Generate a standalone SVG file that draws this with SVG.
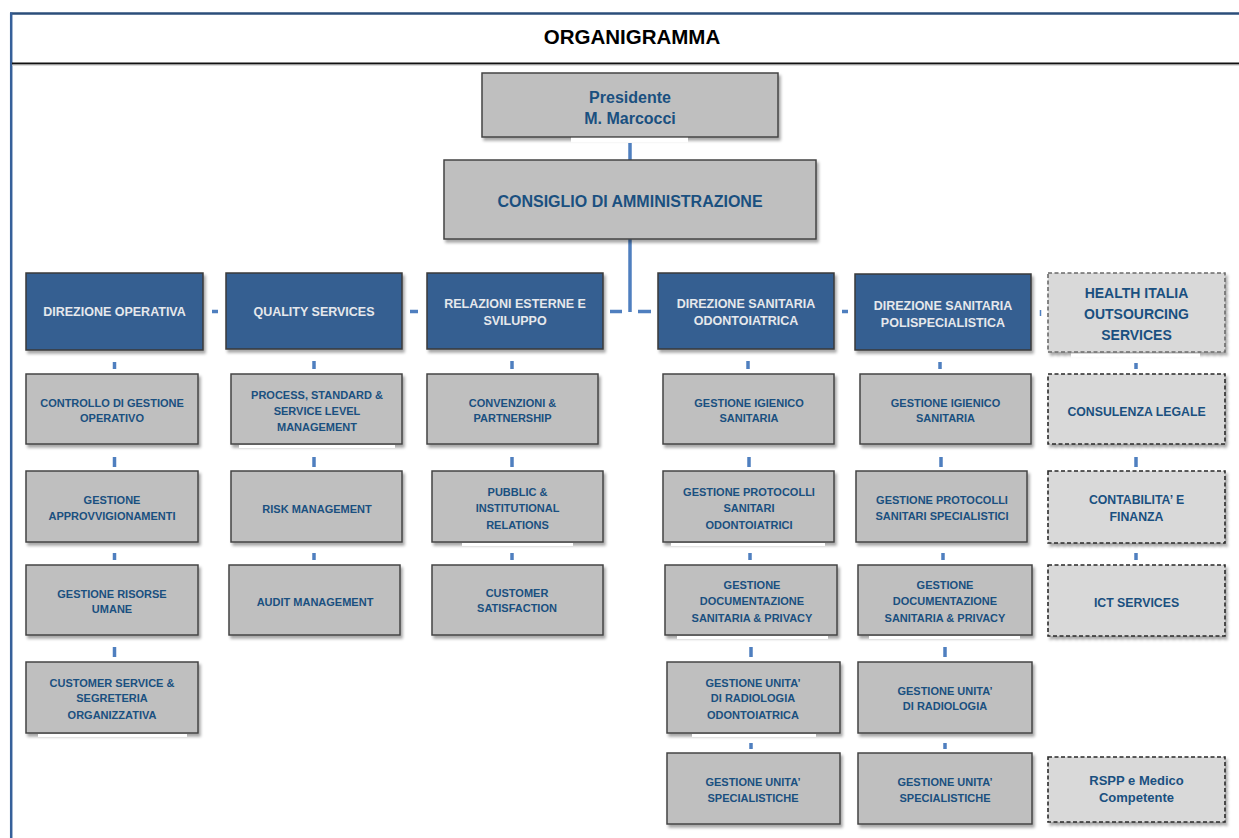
<svg xmlns="http://www.w3.org/2000/svg" width="1239" height="838" viewBox="0 0 1239 838">
<defs>
<filter id="sh" x="-10%" y="-10%" width="125%" height="135%">
<feDropShadow dx="2" dy="3" stdDeviation="1.8" flood-color="#000" flood-opacity="0.35"/>
</filter>
<style>
.g{fill:#BFBFBF;stroke:#454545;stroke-width:1.5;filter:url(#sh)}
.b{fill:#365F91;stroke:#3a3a3a;stroke-width:1.5;filter:url(#sh)}
.d{fill:#D9D9D9;stroke:#2A2A2A;stroke-width:1.6;stroke-dasharray:4 2.5;filter:url(#sh)}
.dl{stroke:#6A6A6A}
.wt{fill:#FFFFFF}
text{font-family:"Liberation Sans",Arial,sans-serif;font-weight:bold;text-anchor:middle}
.t{fill:#1A5080;font-size:11px}
.tb{fill:#E6E8EC;font-size:12.5px}
.td{fill:#1A5080;font-size:12.3px}
.th{fill:#1A5080;font-size:14px}
.tp{fill:#1A5080;font-size:16px}
.c{stroke:#4F7FBF;stroke-width:3.5;fill:none}
</style>
</defs>
<rect width="1239" height="838" fill="#FFFFFF"/>
<g id="frame">
<line x1="10" y1="13.5" x2="1239" y2="13.5" stroke="#2B4E7A" stroke-width="2.5"/>
<line x1="11.2" y1="12.5" x2="11.2" y2="838" stroke="#36609A" stroke-width="2.5"/>
<line x1="12" y1="63.5" x2="1239" y2="63.5" stroke="#111" stroke-width="2"/>
<line x1="12" y1="65.2" x2="1239" y2="65.2" stroke="#CCC" stroke-width="1"/>
<text x="632" y="44" style="font-size:20.5px;fill:#000">ORGANIGRAMMA</text>
</g>
<g id="connectors">
<rect class="wt" x="571" y="137.5" width="117" height="5"/>
<rect class="wt" x="622" y="133" width="18" height="37"/>
<line class="c" x1="630" y1="143" x2="630" y2="160"/>
<rect class="wt" x="622" y="236" width="18" height="10"/>
<line class="c" x1="630" y1="237" x2="630" y2="312"/>
<line class="c" x1="212" y1="311.5" x2="218" y2="311.5"/>
<line class="c" x1="410" y1="311.5" x2="418" y2="311.5"/>
<line class="c" x1="610" y1="311.5" x2="622" y2="311.5"/>
<line class="c" x1="638" y1="311.5" x2="651" y2="311.5"/>
<line class="c" x1="842" y1="311.5" x2="848" y2="311.5"/>
<line x1="1040.5" y1="310" x2="1040.5" y2="316" stroke="#4F7FBF" stroke-width="1.5"/>
<g class="c">
<line x1="114.5" y1="362" x2="114.5" y2="369"/><line x1="114.5" y1="457" x2="114.5" y2="467"/><line x1="114.5" y1="553" x2="114.5" y2="560"/><line x1="114.5" y1="647" x2="114.5" y2="657"/>
<line x1="314" y1="361" x2="314" y2="369"/><line x1="314" y1="457" x2="314" y2="467"/><line x1="314" y1="553" x2="314" y2="560"/>
<line x1="512" y1="361" x2="512" y2="369"/><line x1="512" y1="457" x2="512" y2="467"/><line x1="512" y1="553" x2="512" y2="560"/>
<line x1="748" y1="361" x2="748" y2="369"/><line x1="749" y1="457" x2="749" y2="467"/><line x1="750" y1="553" x2="750" y2="560"/><line x1="751" y1="647" x2="751" y2="657"/><line x1="751" y1="743" x2="751" y2="749"/>
<line x1="940" y1="362" x2="940" y2="369"/><line x1="941" y1="457" x2="941" y2="467"/><line x1="943" y1="553" x2="943" y2="560"/><line x1="945" y1="647" x2="945" y2="657"/><line x1="945" y1="743" x2="945" y2="749"/>
<line x1="1136" y1="363" x2="1136" y2="369"/><line x1="1136" y1="457" x2="1136" y2="467"/><line x1="1136" y1="553" x2="1136" y2="560"/>
</g>
</g>
<g id="presidente"><rect class="g" x="482" y="73" width="296" height="64"/><text class="tp" x="630" y="103">Presidente</text><text class="tp" x="630" y="124">M. Marcocci</text></g>
<rect class="wt" x="571" y="137.8" width="117" height="4.5"/>
<g id="cda"><rect class="g" x="444" y="160" width="372" height="79"/><text class="tp" x="630" y="207">CONSIGLIO DI AMMINISTRAZIONE</text></g>

<g id="dir-operativa"><rect class="b" x="26" y="273" width="177" height="77"/><text class="tb" x="114.5" y="316">DIREZIONE OPERATIVA</text></g>
<g id="quality-services"><rect class="b" x="226" y="273" width="176" height="76"/><text class="tb" x="314" y="315.5">QUALITY SERVICES</text></g>
<g id="relazioni-esterne"><rect class="b" x="427" y="273" width="176" height="76"/><text class="tb" x="515" y="307.5">RELAZIONI ESTERNE E</text><text class="tb" x="515" y="324.5">SVILUPPO</text></g>
<g id="dir-sanitaria-odonto"><rect class="b" x="658" y="273" width="176" height="76"/><text class="tb" x="746" y="307.5">DIREZIONE SANITARIA</text><text class="tb" x="746" y="324.5">ODONTOIATRICA</text></g>
<g id="dir-sanitaria-poli"><rect class="b" x="855" y="274" width="176" height="76"/><text class="tb" x="943" y="309.5">DIREZIONE SANITARIA</text><text class="tb" x="943" y="326.5">POLISPECIALISTICA</text></g>
<g id="health-italia"><rect class="d dl" x="1048" y="273" width="177" height="79"/><text class="th" x="1136.5" y="298">HEALTH ITALIA</text><text class="th" x="1136.5" y="319">OUTSOURCING</text><text class="th" x="1136.5" y="340">SERVICES</text></g>
<rect class="wt" x="1071" y="353.5" width="129" height="4"/>

<g id="controllo-gestione"><rect class="g" x="26" y="374" width="172" height="70"/><text class="t" x="112" y="407">CONTROLLO DI GESTIONE</text><text class="t" x="112" y="422">OPERATIVO</text></g>
<g id="approvvigionamenti"><rect class="g" x="26" y="471" width="172" height="71"/><text class="t" x="112" y="503.5">GESTIONE</text><text class="t" x="112" y="519.5">APPROVVIGIONAMENTI</text></g>
<g id="risorse-umane"><rect class="g" x="26" y="565" width="172" height="70"/><text class="t" x="112" y="598">GESTIONE RISORSE</text><text class="t" x="112" y="613">UMANE</text></g>
<g id="customer-service"><rect class="g" x="26" y="662" width="172" height="71"/><text class="t" x="112" y="687">CUSTOMER SERVICE &amp;</text><text class="t" x="112" y="702">SEGRETERIA</text><text class="t" x="112" y="719">ORGANIZZATIVA</text></g>
<rect class="wt" x="38" y="734" width="149" height="3"/>

<g id="process-standard"><rect class="g" x="231" y="374" width="171" height="70"/><text class="t" x="317" y="399">PROCESS, STANDARD &amp;</text><text class="t" x="317" y="414.5">SERVICE LEVEL</text><text class="t" x="317" y="431">MANAGEMENT</text></g>
<rect class="wt" x="239" y="445" width="156" height="3"/>
<g id="risk-management"><rect class="g" x="231" y="471" width="171" height="71"/><text class="t" x="317" y="512.5">RISK MANAGEMENT</text></g>
<g id="audit-management"><rect class="g" x="229" y="565" width="171" height="70"/><text class="t" x="315" y="606">AUDIT MANAGEMENT</text></g>

<g id="convenzioni"><rect class="g" x="427" y="374" width="171" height="70"/><text class="t" x="512.5" y="407">CONVENZIONI &amp;</text><text class="t" x="512.5" y="422">PARTNERSHIP</text></g>
<g id="pubblic-relations"><rect class="g" x="432" y="471" width="171" height="71"/><text class="t" x="517.5" y="496">PUBBLIC &amp;</text><text class="t" x="517.5" y="511.5">INSTITUTIONAL</text><text class="t" x="517.5" y="529">RELATIONS</text></g>
<rect class="wt" x="462" y="543" width="111" height="3"/>
<g id="customer-satisfaction"><rect class="g" x="432" y="565" width="171" height="70"/><text class="t" x="517" y="597">CUSTOMER</text><text class="t" x="517" y="612">SATISFACTION</text></g>

<g id="igienico-odonto"><rect class="g" x="663" y="374" width="171" height="70"/><text class="t" x="749" y="407">GESTIONE IGIENICO</text><text class="t" x="749" y="422">SANITARIA</text></g>
<g id="protocolli-odonto"><rect class="g" x="663" y="471" width="171" height="71"/><text class="t" x="749" y="496">GESTIONE PROTOCOLLI</text><text class="t" x="749" y="512">SANITARI</text><text class="t" x="749" y="529">ODONTOIATRICI</text></g>
<rect class="wt" x="671" y="543" width="154" height="3"/>
<g id="documentazione-odonto"><rect class="g" x="665" y="565" width="172" height="70"/><text class="t" x="752" y="589">GESTIONE</text><text class="t" x="752" y="605">DOCUMENTAZIONE</text><text class="t" x="752" y="622">SANITARIA &amp; PRIVACY</text></g>
<rect class="wt" x="677" y="636" width="151" height="3"/>
<g id="radiologia-odonto"><rect class="g" x="667" y="662" width="173" height="71"/><text class="t" x="753" y="687">GESTIONE UNITA’</text><text class="t" x="753" y="702">DI RADIOLOGIA</text><text class="t" x="753" y="719">ODONTOIATRICA</text></g>
<rect class="wt" x="692" y="734" width="124" height="3"/>
<g id="specialistiche-odonto"><rect class="g" x="667" y="753" width="173" height="71"/><text class="t" x="753" y="786">GESTIONE UNITA’</text><text class="t" x="753" y="802">SPECIALISTICHE</text></g>

<g id="igienico-poli"><rect class="g" x="860" y="374" width="171" height="70"/><text class="t" x="945.5" y="407">GESTIONE IGIENICO</text><text class="t" x="945.5" y="422">SANITARIA</text></g>
<g id="protocolli-poli"><rect class="g" x="856" y="471" width="171" height="71"/><text class="t" x="942" y="503.5">GESTIONE PROTOCOLLI</text><text class="t" x="942" y="519.5">SANITARI SPECIALISTICI</text></g>
<g id="documentazione-poli"><rect class="g" x="858" y="565" width="174" height="70"/><text class="t" x="945" y="589">GESTIONE</text><text class="t" x="945" y="605">DOCUMENTAZIONE</text><text class="t" x="945" y="622">SANITARIA &amp; PRIVACY</text></g>
<rect class="wt" x="869" y="636" width="151" height="3"/>
<g id="radiologia-poli"><rect class="g" x="858" y="662" width="174" height="71"/><text class="t" x="945" y="695">GESTIONE UNITA’</text><text class="t" x="945" y="710">DI RADIOLOGIA</text></g>
<g id="specialistiche-poli"><rect class="g" x="858" y="753" width="174" height="71"/><text class="t" x="945" y="786">GESTIONE UNITA’</text><text class="t" x="945" y="802">SPECIALISTICHE</text></g>

<g id="consulenza-legale"><rect class="d" x="1048" y="374" width="177" height="70"/><text class="td" x="1136.5" y="416">CONSULENZA LEGALE</text></g>
<g id="contabilita-finanza"><rect class="d" x="1048" y="471" width="177" height="72"/><text class="td" x="1136.5" y="504">CONTABILITA’ E</text><text class="td" x="1136.5" y="521">FINANZA</text></g>
<g id="ict-services"><rect class="d" x="1048" y="565" width="177" height="71"/><text class="td" x="1136.5" y="607">ICT SERVICES</text></g>
<g id="rspp"><rect class="d" x="1048" y="757" width="177" height="65"/><text class="td" x="1136.5" y="785" style="font-size:13px">RSPP e Medico</text><text class="td" x="1136.5" y="801.5" style="font-size:13px">Competente</text></g>
</svg>
